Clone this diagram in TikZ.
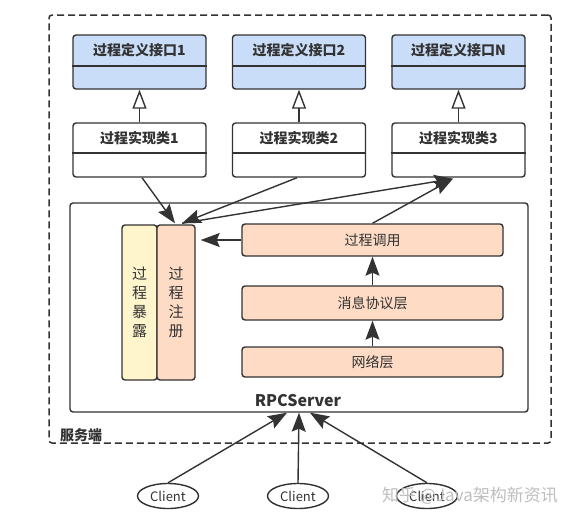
\documentclass[tikz,border=0pt]{standalone}
\usepackage{fontspec}
\setmainfont{Noto Sans CJK SC}
\usetikzlibrary{arrows.meta,shapes.geometric,calc}
\definecolor{ifblue}{HTML}{C9DDF8}
\definecolor{expyel}{HTML}{FFF5CC}
\definecolor{peach}{HTML}{FDDBC5}
\definecolor{ink}{HTML}{333333}
\begin{document}
\begin{tikzpicture}[x=1pt,y=-1pt,
  box/.style={draw=ink,line width=1.4pt,rounded corners=3pt,inner sep=0pt},
  ifbox/.style={box,fill=ifblue,minimum width=133pt,minimum height=54pt},
  implbox/.style={box,fill=white,minimum width=133pt,minimum height=54pt},
  boldtxt/.style={text=ink,font=\bfseries\fontsize{14}{16}\selectfont,inner sep=0pt},
  layer/.style={box,fill=peach,minimum width=261pt,text=ink,font=\fontsize{14}{16}\selectfont},
  vbox/.style={box,minimum height=155pt,text=ink,align=center,font=\fontsize{15}{19}\selectfont},
  arr/.style={draw=ink,line width=1.4pt,-{Stealth[length=19pt,width=14pt,inset=3pt]}},
  realize/.style={draw=ink,line width=1.4pt,-{Triangle[open,length=19pt,width=14pt]}},
  client/.style={ellipse,draw=ink,line width=1.4pt,minimum width=61pt,minimum height=25pt,inner sep=0pt,text=ink,font=\fontsize{13}{15}\selectfont},
  divider/.style={draw=ink,line width=1.4pt}
]
\useasboundingbox (0,0) rectangle (576,525);
\fill[white] (0,0) rectangle (576,525);

% outer dashed frame
\node[draw=ink,line width=1.5pt,dash pattern=on 7pt off 4pt,rounded corners=3pt,minimum width=502pt,minimum height=428pt,inner sep=0pt] (outer) at (300,229) {};
\node[text=ink,font=\bfseries\fontsize{14}{16}\selectfont,inner sep=0pt] (srv) at (81,435) {服务端};

% interfaces
\foreach \n/\x/\t in {1/139.5/过程定义接口1,2/299/过程定义接口2,3/458.5/过程定义接口N}{
  \node[ifbox] (if\n) at (\x,62) {};
  \node[boldtxt] (if\n t) at (\x,50.5) {\t};
  \draw[divider] (if\n.west |- 0,66) -- (if\n.east |- 0,66);
}
% implementations
\foreach \n/\x/\t in {1/139.5/过程实现类1,2/299/过程实现类2,3/458.5/过程实现类3}{
  \node[implbox] (im\n) at (\x,150) {};
  \node[boldtxt] (im\n t) at (\x,138) {\t};
  \draw[divider] (im\n.west |- 0,153) -- (im\n.east |- 0,153);
  \draw[realize] (im\n.north) -- (if\n.south);
}

% RPC server
\node[box,minimum width=458pt,minimum height=209pt] (rpc) at (299,307.5) {};
\node[text=ink,font=\bfseries\fontsize{16}{18}\selectfont,inner sep=0pt] (rpct) at (298,401) {RPCServer};

\node[vbox,fill=expyel,minimum width=35pt] (exp) at (139.5,302.5) {过\\程\\暴\\露};
\node[vbox,fill=peach,minimum width=38pt] (reg) at (176,302.5) {过\\程\\注\\册};

\node[layer,minimum height=32pt] (call) at (372.5,240) {过程调用};
\node[layer,minimum height=34pt] (msg) at (372.5,303) {消息协议层};
\node[layer,minimum height=30pt] (net) at (372.5,362) {网络层};

\draw[arr] (net.north) -- (msg.south);
\draw[arr] (msg.north) -- (call.south);
\draw[arr,shorten >=5pt] (call.west) -- (reg.east |- call.west);

% registration arrows
\coordinate (regA) at ($(reg.north)+(-1,-1)$);
\coordinate (regB) at ($(reg.north)+(6,-1)$);
\coordinate (im1b) at ($(im1.south)+(2.5,0)$);
\coordinate (im2b) at ($(im2.south)+(-2,0)$);
\coordinate (im3b) at ($(im3.south)+(-5.5,1)$);
\draw[arr] (im1b) -- (regA);
\draw[arr] (im2b) -- (regB);
\draw[arr] (regB) -- (im3b);
\draw[arr] (call.north) -- (im3b);

% clients
\node[client] (c1) at (168,496) {Client};
\node[client] (c2) at (298,496) {Client};
\node[client] (c3) at (427,496) {Client};
\coordinate (rA) at ($(rpc.south)+(-12,0)$);
\coordinate (rB) at ($(rpc.south)+(0,0)$);
\coordinate (rC) at ($(rpc.south)+(11,0)$);
\draw[arr] (c1.north) -- (rA);
\draw[arr] (c2.north) -- (rB);
\draw[arr] (c3.north) -- (rC);

% watermark
\node[text=black!25,font=\fontsize{17}{19}\selectfont,inner sep=0pt] (wm) at (470,496) {知乎 @Java架构新资讯};
\end{tikzpicture}
\end{document}
